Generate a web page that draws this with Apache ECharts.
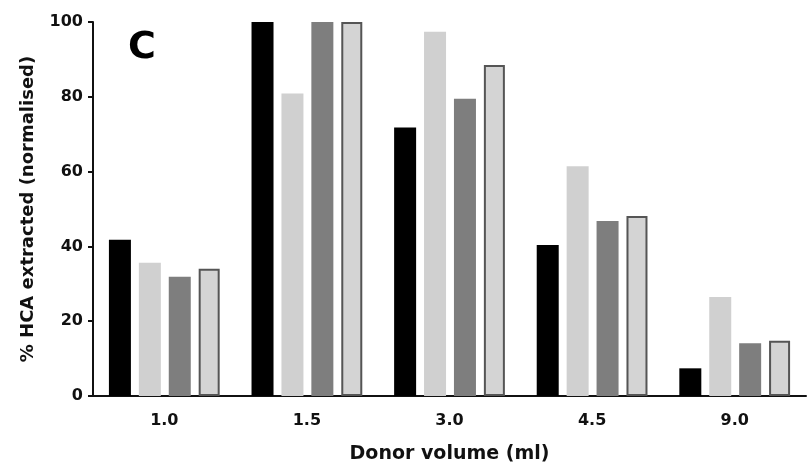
<!DOCTYPE html>
<html><head><meta charset="utf-8">
<script src="https://cdn.jsdelivr.net/npm/echarts@6/dist/echarts.min.js"></script>
<style>html,body{margin:0;padding:0;background:#fff}#c{width:812px;height:469px}</style>
</head><body><div id="c"></div>
<script>
const categories = ['1.0', '1.5', '3.0', '4.5', '9.0'];
const seriesA = [41.8, 100, 71.8, 40.4, 7.4];
const seriesB = [35.6, 80.9, 97.4, 61.4, 26.5];
const seriesC = [31.9, 100, 79.5, 46.8, 14.1];
const seriesD = [34.0, 100, 88.5, 48.1, 14.8];
const yTicks = [0, 20, 40, 60, 80, 100];

const FONT = 'DejaVu Sans';
const chart = echarts.init(document.getElementById('c'), null, {renderer: 'canvas'});
const barBase = {type: 'bar', barWidth: 22, barGap: '36%'};
chart.setOption({
  animation: false,
  backgroundColor: '#fff',
  grid: {left: 93, right: 6, top: 22, bottom: 72},
  title: {text: 'C', left: 123, top: 24, textStyle: {fontFamily: FONT, fontWeight: 'bold', fontSize: 38, color: '#000'}},
  xAxis: {
    type: 'category', data: categories,
    name: 'Donor volume (ml)', nameLocation: 'middle', nameGap: 49,
    nameTextStyle: {fontFamily: FONT, fontWeight: 'bold', fontSize: 19, color: '#111'},
    axisLine: {lineStyle: {color: '#111', width: 2}},
    axisTick: {alignWithLabel: true, length: 5, lineStyle: {color: '#111', width: 2}},
    axisLabel: {fontFamily: FONT, fontWeight: 'bold', fontSize: 16, color: '#111', margin: 17}
  },
  yAxis: {
    type: 'value', min: yTicks[0], max: yTicks[yTicks.length - 1], interval: 20,
    name: '% HCA extracted (normalised)', nameLocation: 'middle', nameGap: 56,
    nameTextStyle: {fontFamily: FONT, fontWeight: 'bold', fontSize: 18, color: '#111'},
    axisLine: {show: true, lineStyle: {color: '#111', width: 2}},
    axisTick: {show: true, length: 5, lineStyle: {color: '#111', width: 2}},
    axisLabel: {fontFamily: FONT, fontWeight: 'bold', fontSize: 16, color: '#111', margin: 10},
    splitLine: {show: false}
  },
  series: [
    Object.assign({}, barBase, {name: 'A', data: seriesA, itemStyle: {color: '#000'}}),
    Object.assign({}, barBase, {name: 'B', data: seriesB, itemStyle: {color: '#d0d0d0'}}),
    Object.assign({}, barBase, {name: 'C', data: seriesC, itemStyle: {color: '#7e7e7e'}}),
    Object.assign({}, barBase, {name: 'D', data: seriesD, barWidth: 21, itemStyle: {color: '#d4d4d4', borderColor: '#555', borderWidth: 2}})
  ]
});
</script></body></html>
